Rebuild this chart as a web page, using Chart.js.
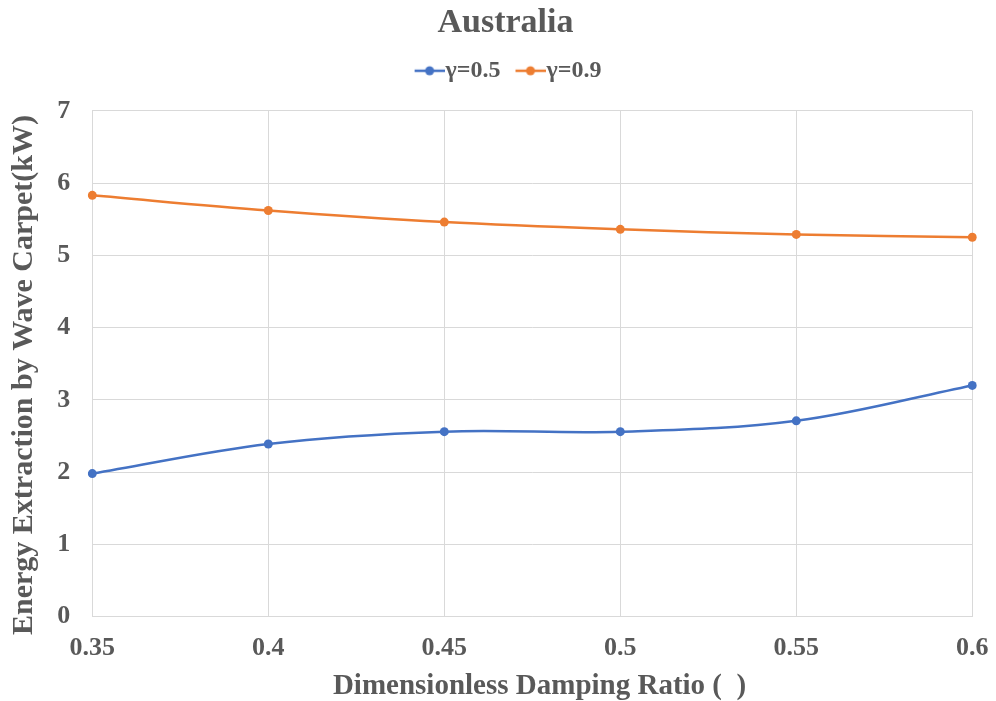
<!DOCTYPE html>
<html>
<head>
<meta charset="utf-8">
<title>Australia</title>
<script src="https://cdn.jsdelivr.net/npm/chart.js@4"></script>
<style>
  html, body { margin: 0; padding: 0; background: #ffffff; }
  canvas { display: block; }
</style>
</head>
<body>
<canvas id="chart" width="996" height="701"></canvas>
<script>
// Damping ratios on the horizontal axis
const dampingRatios = ['0.35', '0.4', '0.45', '0.5', '0.55', '0.6'];
// Extracted energy (kW) for each wave-steepness setting
const energyGamma05 = [1.98, 2.39, 2.56, 2.56, 2.71, 3.20];
const energyGamma09 = [5.83, 5.62, 5.46, 5.36, 5.29, 5.25];
const seriesNames = ['γ=0.5', 'γ=0.9'];
const seriesColors = ['#4472C4', '#ED7D31'];

const SERIF = "'Liberation Serif', 'Times New Roman', serif";
const TEXT = '#595959';
const GRID = '#D9D9D9';

Chart.defaults.font.family = SERIF;
Chart.defaults.color = TEXT;

// Legend marker: a short line with a dot, right-aligned so it sits against the label text
function legendSwatch(color) {
  const c = document.createElement('canvas');
  c.width = 46; c.height = 12;
  const g = c.getContext('2d');
  g.strokeStyle = color;
  g.lineWidth = 2.5;
  g.beginPath(); g.moveTo(16, 6); g.lineTo(46, 6); g.stroke();
  g.fillStyle = color;
  g.beginPath(); g.arc(31, 6, 4.5, 0, Math.PI * 2); g.fill();
  return c;
}
const swatches = seriesColors.map(legendSwatch);

const series = [energyGamma05, energyGamma09];

new Chart(document.getElementById('chart'), {
  type: 'line',
  data: {
    labels: dampingRatios,
    datasets: series.map((values, i) => ({
      label: seriesNames[i],
      data: values,
      borderColor: seriesColors[i],
      backgroundColor: seriesColors[i],
      borderWidth: 2.5,
      pointRadius: 4.5,
      pointHoverRadius: 4.5,
      pointBorderWidth: 0,
      pointStyle: 'circle',
      tension: 0.35,
      fill: false
    }))
  },
  options: {
    responsive: false,
    animation: false,
    events: [],
    layout: { padding: { left: 15, right: 0, top: 0, bottom: 0 } },
    plugins: {
      title: {
        display: true,
        text: 'Australia',
        color: TEXT,
        font: { size: 34, weight: 'bold', lineHeight: 1.2 },
        padding: { top: 3, bottom: 5 }
      },
      legend: {
        display: true,
        position: 'top',
        labels: {
          color: TEXT,
          font: { size: 24, weight: 'bold' },
          usePointStyle: true,
          pointStyleWidth: 24,
          padding: 10,
          generateLabels: (chart) =>
            Chart.defaults.plugins.legend.labels.generateLabels(chart)
              .map((item, i) => Object.assign(item, { pointStyle: swatches[i] }))
        }
      },
      // empty spacer between the legend and the plot
      subtitle: {
        display: true,
        text: '',
        weight: 500,
        font: { size: 1, lineHeight: 1 },
        padding: { top: 0, bottom: 17 }
      },
      tooltip: { enabled: false }
    },
    scales: {
      x: {
        type: 'category',
        offset: false,
        grid: { color: GRID, lineWidth: 1, drawTicks: false },
        border: { color: GRID, width: 1 },
        ticks: {
          color: TEXT,
          font: { size: 26, weight: 'bold' },
          padding: 16,
          maxRotation: 0,
          autoSkip: false
        },
        title: {
          display: true,
          text: '  Dimensionless Damping Ratio (  )',
          color: TEXT,
          font: { size: 29, weight: 'bold', lineHeight: 1 },
          padding: { top: 0, bottom: 0 }
        },
        afterFit: (scale) => {
          scale.height = 84.3;
          scale.paddingRight = 23.7;
        }
      },
      y: {
        type: 'linear',
        min: 0,
        max: 7,
        ticks: {
          stepSize: 1,
          color: TEXT,
          font: { size: 26, weight: 'bold' },
          padding: 22
        },
        grid: { color: GRID, lineWidth: 1, drawTicks: false },
        border: { color: GRID, width: 1 },
        title: {
          display: true,
          text: 'Energy Extraction by Wave Carpet(kW)   ',
          color: TEXT,
          font: { size: 30, weight: 'bold', lineHeight: 1 },
          padding: { top: -5.5, bottom: 0 }
        },
        afterFit: (scale) => { scale.width = 77.3; }
      }
    }
  }
});
</script>
</body>
</html>
